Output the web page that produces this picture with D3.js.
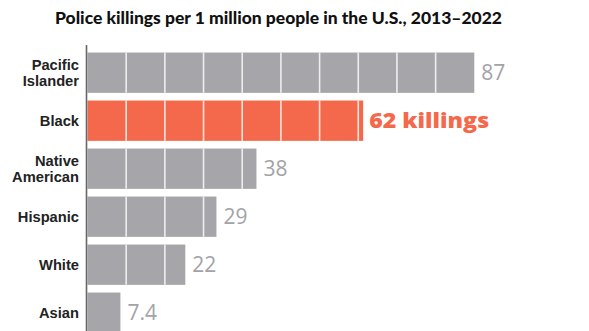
<!DOCTYPE html>
<html>
<head>
<meta charset="utf-8">
<script src="https://cdn.jsdelivr.net/npm/d3@7"></script>
<style>
  html, body { margin: 0; padding: 0; background: #ffffff; }
  svg { display: block; }
</style>
</head>
<body>
<script>
const categories = ["Pacific Islander", "Black", "Native American", "Hispanic", "White", "Asian"];
const labelLines = [["Pacific", "Islander"], ["Black"], ["Native", "American"], ["Hispanic"], ["White"], ["Asian"]];
const values = [87, 62, 38, 29, 22, 7.4];
const valueLabels = ["87", "62 killings", "38", "29", "22", "7.4"];
const highlight = "Black";
const titleText = "Police killings per 1 million people in the U.S., 2013\u20132022";
const segmentCount = 10;

const W = 589, H = 331;
const svg = d3.select("body").append("svg").attr("width", W).attr("height", H);

const x = d3.scaleLinear().domain([0, d3.max(values)]).range([87.5, 474.3]);
const y = d3.scaleBand().domain(categories).range([48.7, 48.7 + 288]).paddingInner(0.16).paddingOuter(0.08);

const gray = "#a6a6aa", orange = "#f4694b";
const FONT = "'Open Sans', 'DejaVu Sans', sans-serif";

function fitWidth(sel, target) {
  const w = sel.node().getComputedTextLength();
  if (w > 0) sel.attr("textLength", target).attr("lengthAdjust", "spacingAndGlyphs");
}

// title
const title = svg.append("text")
  .attr("x", 55).attr("y", 24)
  .attr("font-family", "Lato, 'DejaVu Sans', sans-serif")
  .attr("font-weight", 900)
  .attr("font-size", 18)
  .attr("fill", "#111")
  .text(titleText);
const tw = title.node().getComputedTextLength();
title.attr("font-size", 18 * 447 / tw);

// bars
const barG = svg.append("g");
barG.selectAll("rect").data(categories).join("rect")
  .attr("x", x(0))
  .attr("y", d => y(d))
  .attr("width", (d, i) => x(values[i]) - x(0))
  .attr("height", y.bandwidth())
  .attr("fill", d => d === highlight ? orange : gray);

// segment dividers
const step = d3.max(values) / segmentCount;
const segTicks = d3.range(1, segmentCount).map(i => i * step);
categories.forEach((c, i) => {
  barG.selectAll(null).data(segTicks.filter(t => t < values[i])).join("line")
    .attr("x1", t => x(t)).attr("x2", t => x(t))
    .attr("y1", y(c)).attr("y2", y(c) + y.bandwidth())
    .attr("stroke", c === highlight ? "#fbe3dc" : "#eeeeef")
    .attr("stroke-width", 1.6);
});

// axis line
svg.append("line")
  .attr("x1", 86.5).attr("x2", 86.5)
  .attr("y1", 45).attr("y2", H)
  .attr("stroke", "#666").attr("stroke-width", 1.6);

// category labels
const lab = svg.append("g")
  .attr("font-family", "'Liberation Sans', Arial, sans-serif")
  .attr("font-weight", 700)
  .attr("font-size", 14.7)
  .attr("fill", "#222")
  .attr("text-anchor", "end");
categories.forEach((c, i) => {
  const lines = labelLines[i];
  const cy = y(c) + y.bandwidth() / 2;
  const lh = 16.6;
  lines.forEach((ln, j) => {
    lab.append("text")
      .attr("x", 79)
      .attr("y", cy + 5.2 + (j - (lines.length - 1) / 2) * lh)
      .text(ln);
  });
});

// value labels
const vl = svg.append("g").selectAll("text").data(categories).join("text")
  .attr("x", (d, i) => x(values[i]) + (d === highlight ? 6 : 7))
  .attr("y", d => y(d) + y.bandwidth() / 2 + 7.5)
  .attr("font-family", FONT)
  .attr("font-weight", d => d === highlight ? 800 : 400)
  .attr("font-size", 21)
  .attr("fill", d => d === highlight ? orange : "#a3a3a7")
  .text((d, i) => valueLabels[i]);
vl.filter(d => d === highlight).each(function () { fitWidth(d3.select(this), 120); });
</script>
</body>
</html>
